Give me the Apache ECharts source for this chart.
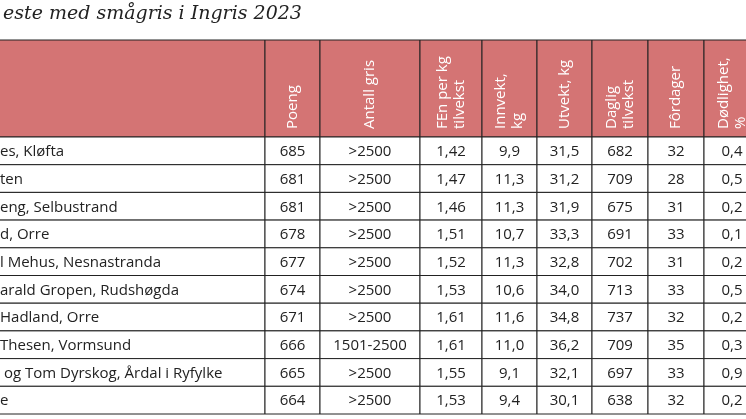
<!DOCTYPE html>
<html><head><meta charset="utf-8">
<script src="https://cdn.jsdelivr.net/npm/echarts@6/dist/echarts.min.js"></script>
<style>html,body{margin:0;padding:0;background:#fff}#chart{width:746px;height:419px}</style>
</head><body><div id="chart"></div>
<script>
var title = 'este med smågris i Ingris 2023';
var headers = ['', 'Poeng', 'Antall gris', 'FEn per kg\ntilvekst', 'Innvekt,\nkg', 'Utvekt, kg', 'Daglig\ntilvekst', 'Fôrdager', 'Dødlighet,\n%'];
var names = ['es, Kløfta', 'ten', 'eng, Selbustrand', 'd, Orre', 'l Mehus, Nesnastranda', 'arald Gropen, Rudshøgda', 'Hadland, Orre', 'Thesen, Vormsund', ' og Tom Dyrskog, Årdal i Ryfylke', 'e'];
var poeng = ['685', '681', '681', '678', '677', '674', '671', '666', '665', '664'];
var antall = ['>2500', '>2500', '>2500', '>2500', '>2500', '>2500', '>2500', '1501-2500', '>2500', '>2500'];
var fen = ['1,42', '1,47', '1,46', '1,51', '1,52', '1,53', '1,61', '1,61', '1,55', '1,53'];
var innvekt = ['9,9', '11,3', '11,3', '10,7', '11,3', '10,6', '11,6', '11,0', '9,1', '9,4'];
var utvekt = ['31,5', '31,2', '31,9', '33,3', '32,8', '34,0', '34,8', '36,2', '32,1', '30,1'];
var daglig = ['682', '709', '675', '691', '702', '713', '737', '709', '697', '638'];
var fordager = ['32', '28', '31', '33', '31', '33', '32', '35', '33', '32'];
var dod = ['0,4', '0,5', '0,2', '0,1', '0,2', '0,5', '0,2', '0,3', '0,9', '0,2'];

var colEdges = [-5, 265, 320, 420, 482, 537, 592, 648, 704, 760];
var headTop = 40, headBottom = 137, rowH = 27.7;
var columns = [names, poeng, antall, fen, innvekt, utvekt, daglig, fordager, dod];

var cells = [];
columns.forEach(function (col, c) {
  cells.push([c, -1]);
  col.forEach(function (v, r) { cells.push([c, r]); });
});

function renderCell(params, api) {
  var c = api.value(0), r = api.value(1);
  var x0 = colEdges[c], x1 = colEdges[c + 1];
  var y0 = r < 0 ? headTop : headBottom + r * rowH;
  var y1 = r < 0 ? headBottom : headBottom + (r + 1) * rowH;
  var p0 = api.coord([x0, y0]), p1 = api.coord([x1, y1]);
  var w = p1[0] - p0[0], h = p1[1] - p0[1];
  var children = [{
    type: 'rect',
    shape: { x: p0[0], y: p0[1], width: w, height: h },
    style: { fill: r < 0 ? '#d47474' : '#fff', stroke: '#222', lineWidth: 1 }
  }];
  if (r < 0) {
    if (headers[c]) children.push({
      type: 'text', x: p0[0] + w / 2, y: p1[1] - 8, rotation: Math.PI / 2,
      style: { text: headers[c], fill: '#fff', font: '15px "Open Sans"', align: 'left', verticalAlign: 'middle', lineHeight: 17 }
    });
  } else {
    children.push({
      type: 'text', x: c === 0 ? 0 : p0[0] + w / 2, y: p0[1] + h / 2 + 1,
      style: { text: columns[c][r], fill: '#222', font: '15px "Open Sans"', align: c === 0 ? 'left' : 'center', verticalAlign: 'middle' }
    });
  }
  return { type: 'group', children: children };
}

var chart = echarts.init(document.getElementById('chart'));
chart.setOption({
  animation: false,
  title: { text: title, left: -2, top: 0, textStyle: { fontFamily: 'Georgia, "DejaVu Serif"', fontStyle: 'italic', fontWeight: 'normal', fontSize: 19, color: '#222' } },
  grid: { left: 0, right: 0, top: 0, bottom: 0 },
  xAxis: { type: 'value', min: 0, max: 746, show: false },
  yAxis: { type: 'value', min: 0, max: 419, inverse: true, show: false },
  series: [{ type: 'custom', data: cells, renderItem: renderCell, clip: false }]
});
</script></body></html>
